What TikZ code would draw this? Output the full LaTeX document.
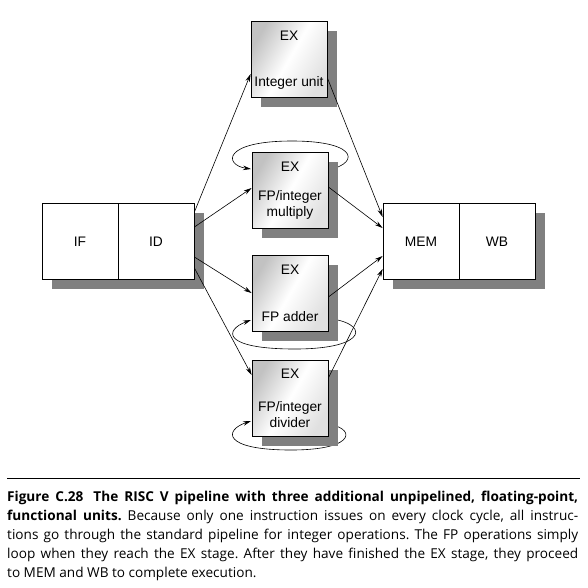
\documentclass[tikz,border=0pt]{standalone}
\usepackage{fontspec}
\setmainfont{Liberation Sans}
\newfontfamily\capfont{Open Sans}
\usetikzlibrary{shadows,arrows.meta,calc}
\begin{document}
\begin{tikzpicture}[x=1pt,y=-1pt,
  shadowed/.style={drop shadow={shadow xshift=10pt, shadow yshift=-10pt, opacity=1, fill=black!50}},
  exbox/.style={draw=black, line width=0.8pt, minimum width=76pt, minimum height=76pt, inner sep=0,
    shading=axis, left color=black!24, right color=black!12, middle color=white, shading angle=60, shadowed},
  stagebox/.style={draw=black, line width=0.8pt, fill=white, minimum width=76pt, minimum height=76pt, inner sep=0, shadowed},
  lbl/.style={font=\fontsize{13.8}{16}\selectfont, anchor=base, inner sep=0},
  arr/.style={line width=0.6pt, -{Stealth[length=8pt,width=4.5pt]}},
  loopline/.style={line width=0.6pt, -{Stealth[length=8pt,width=4.5pt]}}
]
\useasboundingbox (0,0) rectangle (588,587);

% loops (behind boxes)
\coordinate (l2s) at (322,171);
\coordinate (l3s) at (325,318);
\coordinate (l4s) at (325,424);
\coordinate (l2e) at (251,169);
\coordinate (l3e) at (251,320);
\coordinate (l4e) at (251,421);
\draw[loopline] (l2s) .. controls (360,166) and (362,141) .. (292,141)
  .. controls (222,141) and (224,165) .. (l2e);
\draw[loopline] (l3s) .. controls (370,322) and (370,349) .. (295,349)
  .. controls (222,349) and (224,330) .. (l3e);
\draw[loopline] (l4s) .. controls (355,426) and (360,450) .. (291,450)
  .. controls (222,450) and (224,430) .. (l4e);

% boxes
\node[exbox] (ex1) at (289,59) {};
\node[exbox] (ex2) at (290,190) {};
\node[exbox] (ex3) at (290,293) {};
\node[exbox] (ex4) at (290,398) {};
\node[stagebox] (if) at (80,241) {};
\node[stagebox] (id) at (156,241) {};
\node[stagebox] (mem) at (421,241) {};
\node[stagebox] (wb) at (497,241) {};

% labels
\node[lbl] (tif) at (80,246) {IF};
\node[lbl] (tid) at (156,246) {ID};
\node[lbl] (tmem) at (421,246) {MEM};
\node[lbl] (twb) at (497,246) {WB};
\node[lbl] (tex1) at (289,40) {EX};
\node[lbl] (tint) at (289,86) {Integer unit};
\node[lbl] (tex2) at (290,171) {EX};
\node[lbl] (tmul1) at (290,200) {FP/integer};
\node[lbl] (tmul2) at (290,216) {multiply};
\node[lbl] (tex3) at (290,274) {EX};
\node[lbl] (tadd) at (290,321) {FP adder};
\node[lbl] (tex4) at (290,378) {EX};
\node[lbl] (tdiv1) at (290,411) {FP/integer};
\node[lbl] (tdiv2) at (290,427) {divider};

% arrows ID -> EX
\draw[arr] ($(id.east)+(0,-29)$) -- ($(ex1.west)+(0,15)$);
\draw[arr] ($(id.east)+(0,-14)$) -- ($(ex2.west)+(0,-2)$);
\draw[arr] ($(id.east)+(0,16)$) -- ($(ex3.west)+(0,0)$);
\draw[arr] ($(id.east)+(0,27)$) -- ($(ex4.west)+(0,-23)$);
% arrows EX -> MEM
\draw[arr] ($(ex1.east)+(0,19)$) -- ($(mem.west)+(0,-24)$);
\draw[arr] ($(ex2.east)+(0,-3)$) -- ($(mem.west)+(0,-13)$);
\draw[arr] ($(ex3.east)+(0,4)$) -- ($(mem.west)+(0,15)$);
\draw[arr] ($(ex4.east)+(0,-20)$) -- ($(mem.west)+(0,28)$);

% caption
\coordinate (rulel) at (7,478);
\coordinate (ruler) at (580,478);
\draw[line width=0.8pt] (rulel) -- (ruler);
\node[anchor=base west, inner sep=0, text width=571pt, align=justify,
  font=\capfont\fontsize{13.6}{19}\selectfont\frenchspacing] (cap) at (7,501)
  {\textbf{Figure C.28}\hspace{0.3em} \textbf{The RISC V pipeline with three additional unpipelined, floating-point,}\linebreak
   \textbf{functional units.} Because only one instruction issues on every clock cycle, all instruc-\linebreak
   tions go through the standard pipeline for integer operations. The FP operations simply\linebreak
   loop when they reach the EX stage. After they have finished the EX stage, they proceed\linebreak
   to MEM and WB to complete execution.};
\end{tikzpicture}
\end{document}
